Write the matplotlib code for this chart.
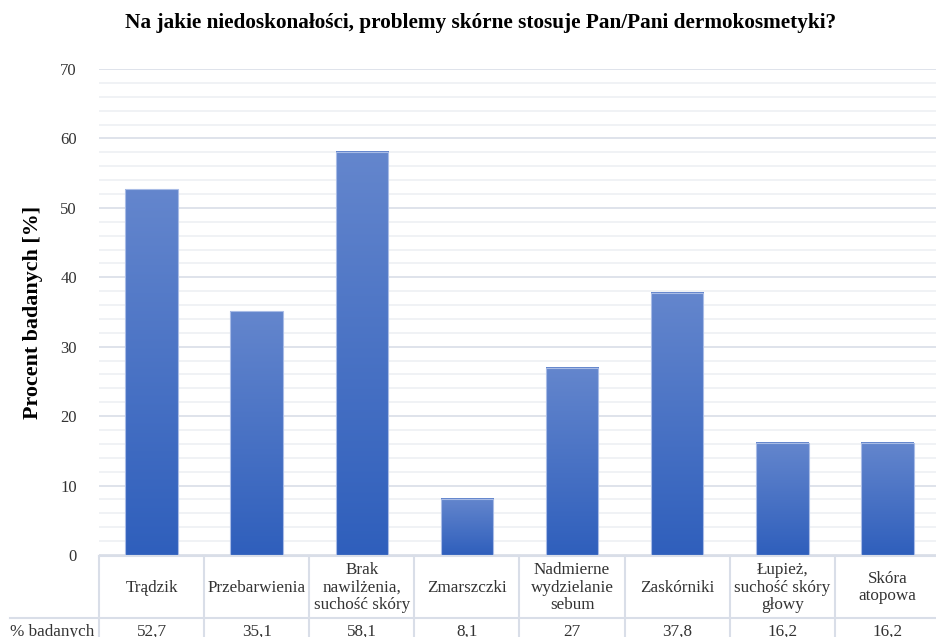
import matplotlib
matplotlib.use("Agg")
import matplotlib.pyplot as plt
import numpy as np
from matplotlib.colors import LinearSegmentedColormap

categories = ["Trądzik", "Przebarwienia", "Brak\nnawilżenia,\nsuchość skóry", "Zmarszczki",
              "Nadmierne\nwydzielanie\nsebum", "Zaskórniki", "Łupież,\nsuchość skóry\ngłowy",
              "Skóra\natopowa"]
values = [52.7, 35.1, 58.1, 8.1, 27, 37.8, 16.2, 16.2]
value_labels = ["52,7", "35,1", "58,1", "8,1", "27", "37,8", "16,2", "16,2"]
yticks = [0, 10, 20, 30, 40, 50, 60, 70]

plt.rcParams["font.family"] = ["Liberation Serif", "DejaVu Serif"]

W, H = 937, 637
fig = plt.figure(figsize=(W / 100, H / 100), dpi=100)

# axes box in pixel coordinates
x0, x1 = 99, 940
y_zero, y_top = 555, 69
ax = fig.add_axes([x0 / W, 1 - y_zero / H, (x1 - x0) / W, (y_zero - y_top) / H])
n = len(categories)

grid_major = "#d9dee8"
grid_minor = "#eef0f4"
for v in np.arange(0, 70.1, 2):
    ax.axhline(v, color=grid_major if v % 10 == 0 else grid_minor, lw=1.2, zorder=0)

cmap = LinearSegmentedColormap.from_list("bar", ["#2f5fbc", "#6486cd"])
grad = np.linspace(0, 1, 256).reshape(-1, 1)
bw = 0.5
for i, v in enumerate(values):
    left = i + 0.5 - bw / 2
    ax.imshow(grad, cmap=cmap, origin="lower", aspect="auto",
              extent=(left, left + bw, 0, v), zorder=2, interpolation="bilinear")
    ax.add_patch(plt.Rectangle((left, 0), bw, v, fill=False, ec="#a9bce6", lw=0.8, zorder=3))
ax.set_xlim(0, n)
ax.set_ylim(0, 70)

for s in ax.spines.values():
    s.set_visible(False)
ax.set_xticks([])
ax.set_yticks(yticks)
ax.tick_params(axis="y", length=0, pad=16, labelsize=12, labelcolor="#333333")
ax.set_ylabel("Procent badanych [%]", fontsize=15.8, fontweight="bold")
ax.yaxis.set_label_coords(-(x0 - 43) / (x1 - x0), 0.5)

fig.text(481 / W, 1 - 23 / H, "Na jakie niedoskonałości, problemy skórne stosuje Pan/Pani dermokosmetyki?",
         ha="center", va="center", fontsize=15.3, fontweight="bold")

# data table beneath the axes
line_c = "#d9dee8"
row1_bottom = 618
tab = fig.add_axes([0, 0, 1, 1], facecolor="none")
tab.set_xlim(0, W)
tab.set_ylim(H, 0)
tab.axis("off")
cell_w = (x1 - x0) / n
tab.plot([x0, W], [y_zero + 1, y_zero + 1], color=line_c, lw=1.5)
tab.plot([10, W], [row1_bottom, row1_bottom], color=line_c, lw=1.5)
for i in range(n + 1):
    xx = x0 + i * cell_w
    tab.plot([xx, xx], [y_zero + 1, H], color=line_c, lw=1.5)
for i, (c, lab) in enumerate(zip(categories, value_labels)):
    cx = x0 + (i + 0.5) * cell_w
    tab.text(cx, (y_zero + row1_bottom) / 2 + 1, c, ha="center", va="center",
             fontsize=12.3, color="#333333", linespacing=1.15)
    tab.text(cx, 632, lab, ha="center", va="center", fontsize=12.3, color="#333333")
tab.text(94, 632, "% badanych", ha="right", va="center", fontsize=12.3, color="#333333")

fig.savefig("out.png", dpi=100)
